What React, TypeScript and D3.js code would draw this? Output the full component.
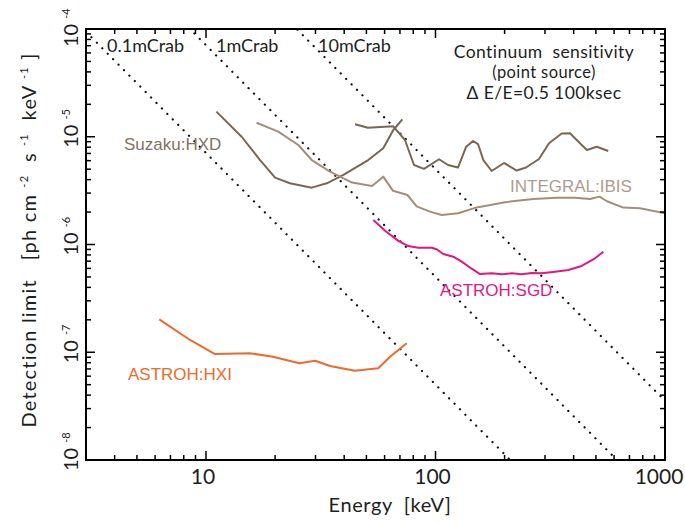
import { useEffect, useRef } from 'react';
import * as d3 from 'd3';

// ─── Data (energy keV, flux ph/cm2/s/keV) ───
const hxdPinE = [11.1, 14.3, 17.2, 20.0, 23.2, 28.9, 33.6, 39.7, 50.9, 59.2, 65.5, 71.7];
const hxdPinF = [1.71e-5, 1.0e-5, 6.08e-6, 4.17e-6, 3.7e-6, 3.37e-6, 3.7e-6, 4.42e-6, 6.08e-6, 7.81e-6, 1.155e-5, 1.45e-5];

const hxdGsoE = [44.6, 50.8, 65.5, 73.6, 80.6, 89.1, 103.6, 113.4, 125.3, 135.8, 145.7, 153.2, 161.6, 175.7, 198.8, 225.9, 248, 282.5, 312.3, 354.7, 385.5, 426, 457.2, 504.1, 566.1];
const hxdGsoF = [1.305e-5, 1.21e-5, 1.25e-5, 9.33e-6, 5.47e-6, 5.04e-6, 6.18e-6, 5.47e-6, 5.18e-6, 8.03e-6, 9.13e-6, 8.56e-6, 6.08e-6, 4.81e-6, 5.71e-6, 4.86e-6, 5.18e-6, 6.22e-6, 8.69e-6, 1.072e-5, 1.076e-5, 8.69e-6, 7.53e-6, 8.08e-6, 7.37e-6];

const ibisE = [16.6, 20.65, 25.25, 28.9, 34.7, 43.3, 52.9, 59.2, 65.3, 75.5, 82.8, 94.6, 106.4, 125.7, 151.2, 200.9, 266.8, 337.5, 405.3, 471.2, 518.4, 558.8, 658, 778, 1000];
const ibisF = [1.35e-5, 1.114e-5, 8.38e-6, 6.08e-6, 4.74e-6, 3.76e-6, 3.49e-6, 4.26e-6, 3.15e-6, 2.88e-6, 2.26e-6, 2.02e-6, 1.88e-6, 1.95e-6, 2.21e-6, 2.47e-6, 2.64e-6, 2.72e-6, 2.71e-6, 2.64e-6, 2.78e-6, 2.52e-6, 2.2e-6, 2.17e-6, 1.95e-6];

const sgdE = [53.6, 60.3, 68.9, 76.1, 84.1, 96.2, 101.2, 108.1, 119.6, 130.1, 143.8, 156.3, 175.7, 194.3, 214.8, 237.5, 262.6, 290.2, 331.8, 379, 433.5, 495.5, 538.5];
const sgdF = [1.69e-6, 1.34e-6, 1.08e-6, 9.68e-7, 9.34e-7, 9.34e-7, 9.03e-7, 8.16e-7, 7.7e-7, 6.93e-7, 5.96e-7, 5.32e-7, 5.4e-7, 5.29e-7, 5.4e-7, 5.29e-7, 5.44e-7, 5.4e-7, 5.59e-7, 5.8e-7, 6.32e-7, 7.44e-7, 8.57e-7];

const hxiE = [6.26, 8.52, 10.94, 15.55, 19.6, 25.5, 29.9, 34.7, 44.6, 56.3, 63.4, 74.9];
const hxiF = [2.02e-7, 1.3e-7, 9.63e-8, 9.78e-8, 9.09e-8, 7.9e-8, 8.35e-8, 7.46e-8, 6.74e-8, 7.1e-8, 9.09e-8, 1.21e-7];

// Crab reference lines: F = norm * E^-index
const crabLabels = ['0.1mCrab', '1mCrab', '10mCrab'];
const crabNorms = [1e-3, 1e-2, 1e-1];
const crabIndex = 2.15;

const xTickValues = [10, 100, 1000];
const yTickExps = [-4, -5, -6, -7, -8];

const W = 685;
const H = 524;
const FONT = 'Lato, "Open Sans", sans-serif';
const SANS = '"Liberation Sans", Arial, sans-serif';
const INK = '#1e1e1e';

export default function App() {
  const svgRef = useRef<SVGSVGElement>(null);

  useEffect(() => {
    if (!svgRef.current) return;
    const svg = d3.select(svgRef.current);
    svg.selectAll('*').remove();

    const x = d3.scaleLog().domain([3, 1000]).range([86, 665]);
    const y = d3.scaleLog().domain([1e-8, 1e-4]).range([460, 29]);
    const [x0, x1] = x.range();
    const [y0, y1] = [y(1e-4), y(1e-8)];

    svg.append('defs').append('clipPath').attr('id', 'plot-clip')
      .append('rect').attr('x', x0).attr('y', y0).attr('width', x1 - x0).attr('height', y1 - y0);

    const plot = svg.append('g').attr('clip-path', 'url(#plot-clip)');

    // ─── Crab dotted lines ────────────────────────────
    crabNorms.forEach((norm) => {
      const ends = [3, 1000];
      plot.append('path')
        .attr('d', d3.line<number>().x((e) => x(e)).y((e) => y(norm * Math.pow(e, -crabIndex)))(ends))
        .attr('fill', 'none')
        .attr('stroke', '#111')
        .attr('stroke-width', 2.2)
        .attr('stroke-linecap', 'round')
        .attr('stroke-dasharray', '0.1 7.6');
    });

    // ─── Curves ───────────────────────────────────────
    const series = [
      { e: hxdPinE, f: hxdPinF, color: '#7a6753' },
      { e: hxdGsoE, f: hxdGsoF, color: '#7a6753' },
      { e: ibisE, f: ibisF, color: '#a48d7a' },
      { e: sgdE, f: sgdF, color: '#e0187f' },
      { e: hxiE, f: hxiF, color: '#ee6a2a' },
    ];
    series.forEach((s) => {
      const gen = d3.line<number>()
        .x((e) => x(e))
        .y((_, i) => y(s.f[i]));
      plot.append('path')
        .attr('d', gen(s.e))
        .attr('fill', 'none')
        .attr('stroke', s.color)
        .attr('stroke-width', 2)
        .attr('stroke-linejoin', 'round');
    });

    // ─── Ticks (inside, all four sides) ───────────────
    const ax = svg.append('g').attr('stroke', '#000');
    const xMinor: number[] = [];
    for (let dec = 1; dec <= 100; dec *= 10) {
      for (let k = 1; k <= 9; k++) {
        const v = k * dec;
        if (v >= 3 && v <= 1000) xMinor.push(v);
      }
    }
    xMinor.forEach((v) => {
      const major = xTickValues.includes(v);
      const len = major ? 9 : 5;
      ax.append('line').attr('x1', x(v)).attr('x2', x(v)).attr('y1', y1).attr('y2', y1 - len).attr('stroke-width', 1.5);
      ax.append('line').attr('x1', x(v)).attr('x2', x(v)).attr('y1', y0).attr('y2', y0 + len).attr('stroke-width', 1.5);
    });
    const yMinor: number[] = [];
    for (let p = -8; p <= -5; p++) {
      for (let k = 1; k <= 9; k++) yMinor.push(k * Math.pow(10, p));
    }
    yMinor.push(1e-4);
    yMinor.forEach((v) => {
      const major = Math.abs(Math.log10(v) - Math.round(Math.log10(v))) < 1e-9;
      const len = major ? 9 : 5;
      ax.append('line').attr('x1', x0).attr('x2', x0 + len).attr('y1', y(v)).attr('y2', y(v)).attr('stroke-width', 1.5);
      ax.append('line').attr('x1', x1).attr('x2', x1 - len).attr('y1', y(v)).attr('y2', y(v)).attr('stroke-width', 1.5);
    });

    // frame
    svg.append('rect')
      .attr('x', x0).attr('y', y0).attr('width', x1 - x0).attr('height', y1 - y0)
      .attr('fill', 'none').attr('stroke', '#000').attr('stroke-width', 2);

    // ─── X tick labels ────────────────────────────────
    xTickValues.forEach((v) => {
      svg.append('text')
        .attr('x', v === 1000 ? x(v) - 6 : x(v) - 3)
        .attr('y', 484)
        .attr('text-anchor', 'middle')
        .attr('font-family', FONT)
        .attr('font-size', 21)
        .attr('fill', INK)
        .text(String(v));
    });

    // ─── Y tick labels (rotated 10^n) ─────────────────
    yTickExps.forEach((p) => {
      const cy = p === -4 ? y(1e-4) + 7 : y(Math.pow(10, p));
      const t = svg.append('text')
        .attr('transform', `translate(78, ${cy}) rotate(-90)`)
        .attr('font-family', FONT)
        .attr('font-size', 20)
        .attr('fill', INK)
        .attr('x', -11);
      t.append('tspan').text('10');
      t.append('tspan').attr('dx', 5).attr('dy', -8).attr('font-size', 11).text(String(p));
    });

    // ─── Axis titles ──────────────────────────────────
    svg.append('text')
      .attr('x', 390).attr('y', 512)
      .attr('text-anchor', 'middle')
      .attr('font-family', FONT)
      .attr('font-size', 20)
      .attr('letter-spacing', 0.6)
      .attr('fill', INK)
      .style('white-space', 'pre')
      .text('Energy  [keV]');

    const yl = svg.append('text')
      .attr('transform', 'translate(36, 240) rotate(-90)')
      .attr('text-anchor', 'middle')
      .attr('font-family', FONT)
      .attr('font-size', 20)
      .attr('letter-spacing', 1.2)
      .attr('fill', INK)
      .style('white-space', 'pre');
    yl.append('tspan').text('Detection limit   [ph cm ');
    yl.append('tspan').attr('dy', -8).attr('font-size', 11).text('-2');
    yl.append('tspan').attr('dy', 8).text('  s ');
    yl.append('tspan').attr('dy', -8).attr('font-size', 11).text('-1');
    yl.append('tspan').attr('dy', 8).text('  keV ');
    yl.append('tspan').attr('dy', -8).attr('font-size', 11).text('-1');
    yl.append('tspan').attr('dy', 8).text(' ]');

    // ─── Crab labels ──────────────────────────────────
    const crabX = [107, 216, 318];
    crabLabels.forEach((lbl, i) => {
      svg.append('text')
        .attr('x', crabX[i]).attr('y', 52)
        .attr('font-family', FONT)
        .attr('font-size', 18)
        .attr('fill', INK)
        .text(lbl);
    });

    // ─── Title block ──────────────────────────────────
    const title = [
      { t: 'Continuum  sensitivity', y: 58, s: 17.5 },
      { t: '(point source)', y: 78, s: 16.5 },
      { t: '\u0394 E/E=0.5 100ksec', y: 99, s: 17.5 },
    ];
    title.forEach((d) => {
      svg.append('text')
        .attr('x', 544).attr('y', d.y)
        .attr('text-anchor', 'middle')
        .attr('font-family', FONT)
        .attr('font-size', d.s)
        .attr('letter-spacing', 0.4)
        .attr('fill', INK)
        .style('white-space', 'pre')
        .text(d.t);
    });

    // ─── Instrument labels ────────────────────────────
    const labels = [
      { t: 'Suzaku:HXD', x: 124, y: 150, c: '#837260' },
      { t: 'INTEGRAL:IBIS', x: 510, y: 192, c: '#ad9c8e' },
      { t: 'ASTROH:SGD', x: 440, y: 296, c: '#e0187f' },
      { t: 'ASTROH:HXI', x: 128, y: 380, c: '#ee6a2a' },
    ];
    labels.forEach((d) => {
      svg.append('text')
        .attr('x', d.x).attr('y', d.y)
        .attr('font-family', SANS)
        .attr('font-size', 17)
        .attr('fill', d.c)
        .text(d.t);
    });
  }, []);

  return (
    <div style={{ position: 'absolute', left: 0, top: 0, width: W, height: H, background: '#fff' }}>
      <svg ref={svgRef} width={W} height={H} />
    </div>
  );
}
